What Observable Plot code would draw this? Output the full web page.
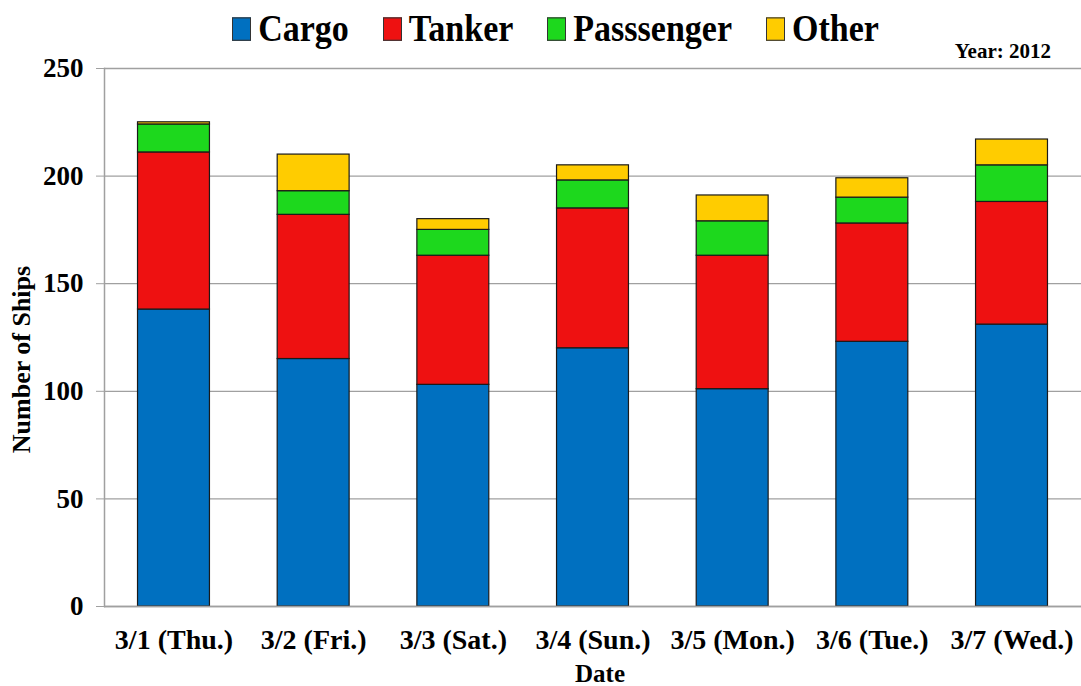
<!DOCTYPE html>
<html>
<head>
<meta charset="utf-8">
<script src="https://cdn.jsdelivr.net/npm/d3@7"></script>
<script src="https://cdn.jsdelivr.net/npm/@observablehq/plot@0.6"></script>
<style>
  html, body { margin: 0; padding: 0; background: #fff; }
  #wrap { position: relative; width: 1081px; height: 686px; font-family: "Liberation Serif", "Times New Roman", serif; font-weight: bold; }
  #legend { position: absolute; left: 30px; top: 5px; width: 1051px; display: flex; justify-content: center; font-family: "Liberation Serif", "Times New Roman", serif; font-weight: bold; font-size: 34px; line-height: 42px; transform: scaleY(1.12); transform-origin: top; }
  .item { display: flex; align-items: center; margin: 0 17px; font-family: "Liberation Serif", serif; }
  .sw { width: 19px; height: 21px; border: 1px solid #333; margin-right: 7px; box-sizing: border-box; }
  #year { position: absolute; right: 30px; top: 39px; font-family: "Liberation Serif", serif; font-size: 21px; }
  #chart { position: absolute; left: 0; top: 0; }
</style>
</head>
<body>
<div id="wrap">
  <div id="chart"></div>
  <div id="legend"></div>
  <div id="year">Year: 2012</div>
</div>
<script>
const dates = ["3/1 (Thu.)", "3/2 (Fri.)", "3/3 (Sat.)", "3/4 (Sun.)", "3/5 (Mon.)", "3/6 (Tue.)", "3/7 (Wed.)"];
const seriesNames = ["Cargo", "Tanker", "Passsenger", "Other"];
const seriesColors = ["#0070C0", "#EE1111", "#1DD81D", "#FFCC00"];
const cargo = [138, 115, 103, 120, 101, 123, 131];
const tanker = [73, 67, 60, 65, 62, 55, 57];
const passenger = [13, 11, 12, 13, 16, 12, 17];
const other = [1, 17, 5, 7, 12, 9, 12];
const yTicks = [0, 50, 100, 150, 200, 250];

const seriesValues = [cargo, tanker, passenger, other];
const data = [];
seriesNames.forEach((s, i) => dates.forEach((d, j) => data.push({date: d, type: s, value: seriesValues[i][j]})));

const legend = document.getElementById("legend");
seriesNames.forEach((s, i) => {
  const it = document.createElement("div");
  it.className = "item";
  it.innerHTML = `<span class="sw" style="background:${seriesColors[i]}"></span><span>${s}</span>`;
  legend.appendChild(it);
});

const chart = Plot.plot({
  width: 1081,
  height: 686,
  marginTop: 68,
  marginBottom: 80,
  marginLeft: 104,
  marginRight: 0,
  style: {fontFamily: "'Liberation Serif', 'Times New Roman', serif", fontWeight: "bold", color: "#000", background: "#fff"},
  x: {domain: dates, paddingInner: 0.485, paddingOuter: 0.24, round: false, label: null},
  y: {domain: [0, 250], label: null},
  color: {domain: seriesNames, range: seriesColors},
  marks: [
    Plot.gridY(yTicks, {stroke: "#a0a0a0", strokeOpacity: 1, strokeWidth: 1.3}),
    Plot.barY(data, {x: "date", y: "value", fill: "type", order: seriesNames, stroke: "#1a1a1a", strokeWidth: 1.2}),
    Plot.ruleY([0], {stroke: "#a0a0a0", strokeWidth: 1.5}),
    Plot.frame({anchor: "left", stroke: "#a0a0a0", strokeWidth: 1.5}),
    Plot.axisY(yTicks, {tickSize: 8, tickPadding: 13, stroke: "#a0a0a0", fontSize: 27, fontWeight: "bold", fill: "#000", label: null}),
    Plot.axisX({tickSize: 0, tickPadding: 23, fontSize: 28, fontWeight: "bold", fill: "#000", label: null}),
    Plot.text(["Date"], {frameAnchor: "bottom", dx: 7, dy: 75, fontSize: 25, fontWeight: "bold", fill: "#000"}),
    Plot.text(["Number of Ships"], {frameAnchor: "left", textAnchor: "middle", dx: -83, dy: 22, rotate: -90, fontSize: 26, fontWeight: "bold", fill: "#000"})
  ]
});
document.getElementById("chart").appendChild(chart);
</script>
</body>
</html>
